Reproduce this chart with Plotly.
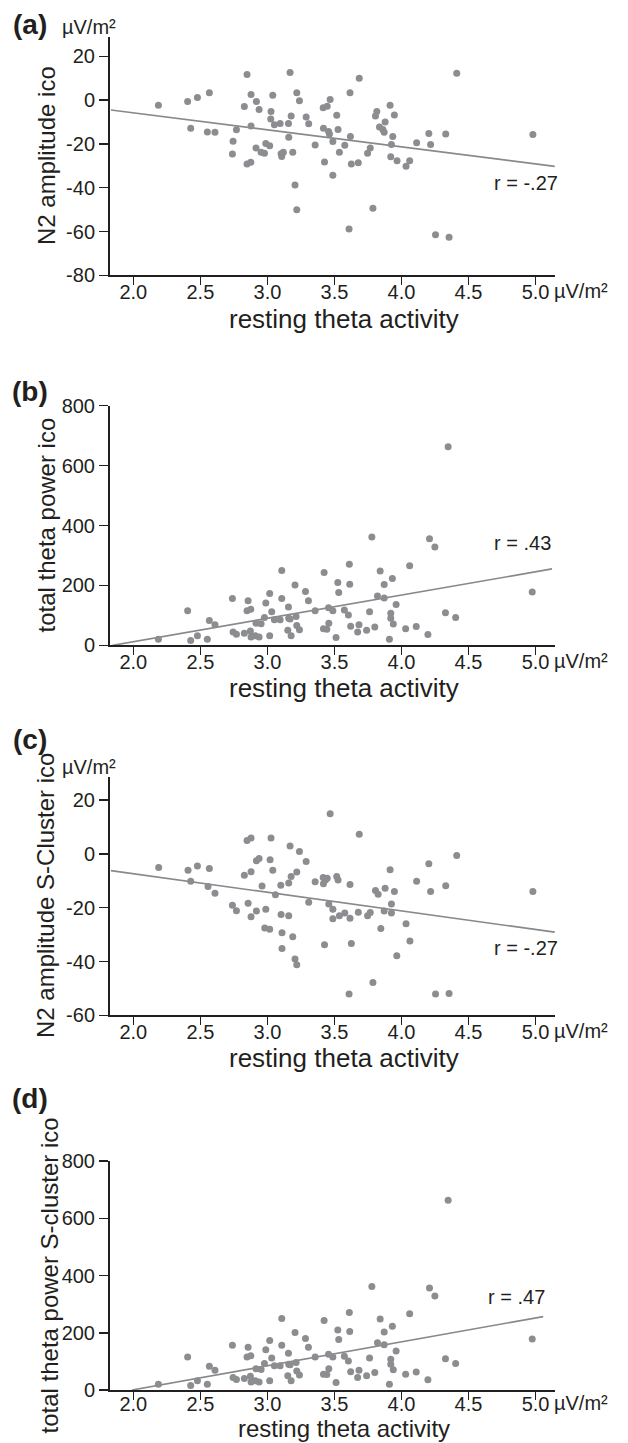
import plotly.graph_objects as go

W, H = 628, 1443

# ---------------- data ----------------
x_ticks = [2.0, 2.5, 3.0, 3.5, 4.0, 4.5, 5.0]
x_ticktext = ["2.0", "2.5", "3.0", "3.5", "4.0", "4.5", "5.0"]

a_yticks = [-80, -60, -40, -20, 0, 20]
a_yticktext = ["-80", "-60", "-40", "-20", "0", "20"]
b_yticks = [0, 200, 400, 600, 800]
b_yticktext = ["0", "200", "400", "600", "800"]
c_yticks = [-60, -40, -20, 0, 20]
c_yticktext = ["-60", "-40", "-20", "0", "20"]
d_yticks = [0, 200, 400, 600, 800]
d_yticktext = ["0", "200", "400", "600", "800"]

# (a) N2 amplitude ico vs resting theta
a_x = [2.187, 2.405, 2.478, 2.567, 2.428, 2.552, 2.609, 2.744, 2.769, 2.739, 2.828, 2.848,
       2.878, 2.878, 2.918, 2.938, 2.848, 2.876, 2.915, 2.953, 2.978, 2.988, 3.017, 3.025,
       3.027, 3.040, 3.052, 3.095, 3.102, 3.107, 3.119, 3.157, 3.159, 3.169, 3.177, 3.189,
       3.206, 3.219, 3.219, 3.239, 3.289, 3.308, 3.356, 3.416, 3.446, 3.418, 3.468, 3.685,
       3.616, 3.517, 3.456, 3.527, 3.463, 3.488, 3.619, 3.577, 3.537, 3.426, 3.488, 3.626,
       3.678, 3.747, 3.767, 3.787, 3.609, 3.915, 3.947, 3.816, 3.806, 3.878, 3.836, 3.861,
       3.871, 3.935, 3.925, 3.920, 3.967, 4.034, 4.061, 4.113, 4.204, 4.217, 4.330, 4.412,
       4.254, 4.355, 4.980]
a_y = [-2.3, -0.6, 1.2, 3.4, -12.8, -14.5, -14.6, -18.8, -13.5, -24.6, -2.9, 11.7,
       2.6, -11.8, -0.6, -4.3, -29.1, -28.3, -21.8, -23.8, -24.2, -19.8, -20.8, -8.6,
       -5.2, 2.2, -11.2, -10.6, -24.5, -25.7, -23.8, -10.6, -16.9, 12.6, -7.2, -23.8,
       -38.8, -50.0, 3.4, -0.3, -7.7, -10.8, -20.5, -3.5, -2.8, -12.8, 0.3, 10.0,
       3.4, -6.9, -14.3, -13.4, -15.4, -18.9, -16.6, -20.6, -23.8, -28.2, -34.3, -29.2,
       -28.6, -24.3, -21.8, -49.4, -58.9, -2.3, -6.8, -5.2, -7.2, -10.0, -12.2, -13.4,
       -14.6, -16.6, -20.3, -25.8, -27.7, -30.2, -27.7, -19.4, -15.2, -20.2, -15.4, 12.3,
       -61.5, -62.6, -15.7]
a_fit_x = [1.833, 5.143]
a_fit_y = [-4.5, -30.2]

# (b) total theta power ico vs resting theta
b_x = [2.187, 2.405, 2.428, 2.478, 2.552, 2.567, 2.609, 2.739, 2.744, 2.769, 2.828, 2.848,
       2.876, 2.856, 2.873, 2.878, 2.910, 2.915, 2.938, 2.953, 2.978, 2.988, 3.017, 3.017,
       3.032, 3.052, 3.095, 3.107, 3.107, 3.157, 3.159, 3.152, 3.177, 3.169, 3.206, 3.214,
       3.219, 3.239, 3.284, 3.306, 3.356, 3.423, 3.611, 3.525, 3.614, 3.532, 3.456, 3.488,
       3.574, 3.604, 3.458, 3.418, 3.443, 3.512, 3.621, 3.683, 3.673, 3.740, 3.762, 3.779,
       3.801, 3.841, 3.871, 3.821, 3.871, 3.932, 3.960, 3.920, 3.920, 3.939, 3.910, 4.031,
       4.110, 4.061, 4.197, 4.209, 4.249, 4.328, 4.404, 4.348, 4.975]
b_y = [20, 115, 16, 32, 20, 83, 69, 156, 44, 37, 40, 115,
       120, 149, 48, 28, 32, 74, 28, 72, 93, 141, 173, 32,
       112, 85, 85, 250, 156, 128, 90, 50, 32, 88, 201, 96,
       66, 52, 180, 149, 115, 243, 271, 210, 204, 176, 125, 115,
       118, 101, 74, 55, 54, 26, 64, 69, 44, 50, 112, 362,
       61, 248, 203, 165, 158, 223, 136, 107, 90, 71, 20, 55,
       63, 266, 36, 356, 328, 109, 93, 663, 178]
b_fit_x = [1.846, 5.123]
b_fit_y = [0, 255]

# (c) N2 amplitude S-Cluster ico vs resting theta
c_x = [2.189, 2.408, 2.478, 2.567, 2.428, 2.557, 2.609, 2.739, 2.769, 2.828, 2.848, 2.878,
       2.878, 2.856, 2.878, 2.918, 2.918, 2.938, 2.960, 2.988, 2.980, 3.017, 3.020, 3.027,
       3.040, 3.060, 3.100, 3.102, 3.109, 3.109, 3.159, 3.159, 3.169, 3.177, 3.189, 3.206,
       3.219, 3.219, 3.239, 3.289, 3.308, 3.356, 3.416, 3.433, 3.446, 3.418, 3.468, 3.517,
       3.527, 3.616, 3.685, 3.458, 3.488, 3.488, 3.537, 3.577, 3.616, 3.678, 3.747, 3.767,
       3.426, 3.626, 3.846, 3.787, 3.609, 3.915, 3.806, 3.826, 3.878, 3.947, 3.925, 3.871,
       3.925, 4.034, 4.063, 3.965, 4.113, 4.204, 4.217, 4.330, 4.412, 4.254, 4.355, 4.980]
c_y = [-5.0, -6.1, -4.5, -5.4, -10.2, -12.1, -14.6, -19.1, -21.1, -7.9, 5.0, 5.9,
       -6.6, -18.3, -23.4, -21.2, -2.5, -1.7, -11.9, -20.6, -27.5, -28.0, -2.2, 5.9,
       -6.1, -15.2, -11.6, -22.5, -29.3, -35.2, -23.0, -10.8, 3.0, -8.4, -30.8, -39.1,
       -41.2, -6.7, 0.9, -2.8, -18.0, -10.3, -8.8, -9.7, -9.0, -11.1, 14.9, -8.4,
       -9.7, -11.4, 7.3, -18.6, -20.6, -24.1, -23.0, -22.0, -23.9, -21.7, -23.0, -21.8,
       -33.8, -33.3, -27.7, -47.8, -52.1, -5.9, -13.6, -15.0, -12.8, -14.0, -18.6, -21.2,
       -22.0, -26.0, -32.4, -37.9, -10.2, -3.6, -14.0, -11.8, -0.6, -52.1, -51.9, -14.0]
c_fit_x = [1.833, 5.143]
c_fit_y = [-6.2, -29.1]

# (d) total theta power S-cluster ico vs resting theta (same points as (b) in the picture)
d_x = list(b_x)
d_y = list(b_y)
d_fit_x = [1.99, 5.057]
d_fit_y = [0, 256.5]

# ---------------- styling ----------------
FONT = "Liberation Sans, Arial, Helvetica, sans-serif"
INK = "#231f20"
DOT = "#8c8d90"
LINE = "#88898b"

def px_x(p):
    return p / W

def px_y(p):
    return 1 - p / H

XDOM = [px_x(110), px_x(555)]
XRANGE = [1.826, 5.145]

panels = [
    dict(x=a_x, y=a_y, fx=a_fit_x, fy=a_fit_y, top=36.7, bot=275.3, yr=[-80, 29],
         yt=a_yticks, ytt=a_yticktext, so=-10),
    dict(x=b_x, y=b_y, fx=b_fit_x, fy=b_fit_y, top=405.7, bot=645.3, yr=[0, 800],
         yt=b_yticks, ytt=b_yticktext, so=-10),
    dict(x=c_x, y=c_y, fx=c_fit_x, fy=c_fit_y, top=777.3, bot=1015.3, yr=[-60, 28.5],
         yt=c_yticks, ytt=c_yticktext, so=-10),
    dict(x=d_x, y=d_y, fx=d_fit_x, fy=d_fit_y, top=1161, bot=1390, yr=[0, 800],
         yt=d_yticks, ytt=d_yticktext, so=-13),
]

fig = go.Figure()
layout = dict(
    width=W, height=H,
    margin=dict(l=0, r=0, t=0, b=0, autoexpand=False),
    paper_bgcolor="white", plot_bgcolor="white",
    showlegend=False,
    font=dict(family=FONT, color=INK),
)

for i, p in enumerate(panels):
    n = "" if i == 0 else str(i + 1)
    xa, ya = "x" + n, "y" + n
    fig.add_trace(go.Scatter(x=p["fx"], y=p["fy"], mode="lines",
                             line=dict(color=LINE, width=1.7),
                             xaxis=xa, yaxis=ya, hoverinfo="skip", cliponaxis=False))
    fig.add_trace(go.Scatter(x=p["x"], y=p["y"], mode="markers",
                             marker=dict(color=DOT, size=7, line=dict(width=0)),
                             xaxis=xa, yaxis=ya, cliponaxis=False))
    layout["xaxis" + n] = dict(
        domain=XDOM, range=XRANGE, anchor=ya,
        tickvals=x_ticks, ticktext=x_ticktext,
        ticks="outside", ticklen=8, tickwidth=1.5, tickcolor=INK,
        ticklabelstandoff=p["so"],
        showline=True, linecolor=INK, linewidth=2,
        showgrid=False, zeroline=False, automargin=False,
        tickfont=dict(family=FONT, size=20, color=INK),
    )
    layout["yaxis" + n] = dict(
        domain=[px_y(p["bot"]), px_y(p["top"])], range=p["yr"], anchor=xa,
        tickvals=p["yt"], ticktext=p["ytt"],
        ticks="outside", ticklen=9, tickwidth=1.5, tickcolor=INK,
        showline=True, linecolor=INK, linewidth=2,
        showgrid=False, zeroline=False, automargin=False,
        tickfont=dict(family=FONT, size=20, color=INK),
    )

fig.update_layout(**layout)

def ann(text, x, y, size=20, angle=0, xanchor="center", yanchor="middle", bold=False, pad=1):
    fig.add_annotation(
        text=("<b>%s</b>" % text) if bold else text,
        x=px_x(x), y=px_y(y), xref="paper", yref="paper",
        showarrow=False, textangle=angle, xanchor=xanchor, yanchor=yanchor,
        borderpad=pad,
        font=dict(family=FONT, size=size, color=INK),
    )

# panel letters
ann("(a)", 11, 24, size=28, xanchor="left", bold=True)
ann("(b)", 10, 391, size=28, xanchor="left", bold=True)
ann("(c)", 11, 739, size=28, xanchor="left", bold=True)
ann("(d)", 10, 1098, size=28, xanchor="left", bold=True)

# y units
ann("µV/m²", 89, 27, size=20)
ann("µV/m²", 89, 767, size=20)

# x units
for yy in [290.5, 660.5, 1030.5, 1402.5]:
    ann("µV/m²", 552, yy, size=20, xanchor="left")

# x titles
for yy in [319, 688, 1058]:
    ann("resting theta activity", 344, yy, size=26)
ann("resting theta activity", 344, H, size=24, yanchor="bottom", pad=0)

# y titles
ann("N2 amplitude ico", 46, 156, size=24, angle=-90)
ann("total theta power ico", 46, 525.5, size=24, angle=-90)
ann("N2 amplitude S-Cluster ico", 46, 896, size=24, angle=-90)
ann("total theta power S-cluster ico", 49, 1275.5, size=24, angle=-90)

# correlation labels
ann("r = -.27", 525.5, 183, size=20)
ann("r = .43", 522.5, 543.3, size=20)
ann("r = -.27", 525.5, 948.3, size=20)
ann("r = .47", 516.5, 1296.7, size=20)

fig.write_html(
    "out.html",
    config={"displayModeBar": False, "staticPlot": True},
    post_script="document.body.style.margin='0px';document.body.style.overflow='hidden';",
)
